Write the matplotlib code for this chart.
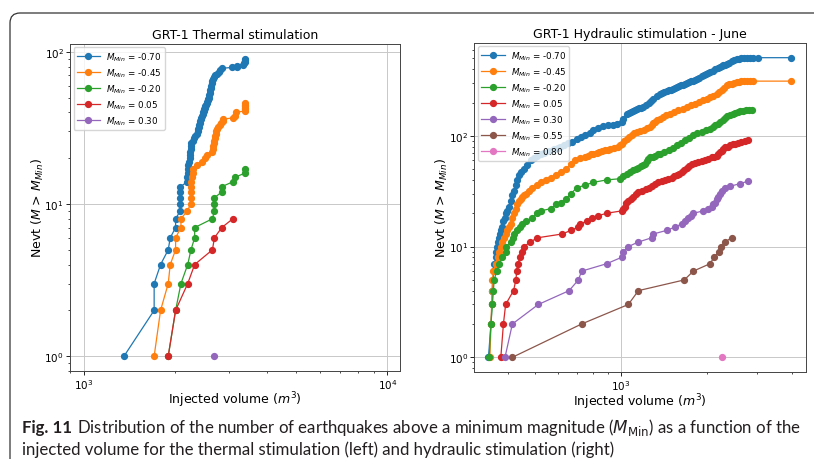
import matplotlib
matplotlib.use("Agg")
import matplotlib.pyplot as plt
from matplotlib.patches import FancyBboxPatch
from matplotlib.ticker import NullFormatter

# ---- GRT-1 thermal stimulation: injected volume (m3) vs cumulative count ----
th_labels = ["-0.70", "-0.45", "-0.20", "0.05", "0.30"]
th_v_070 = [1356, 1704, 1704, 1789, 1896, 1925, 2005, 2005, 2077, 2080, 2080, 2080, 2080,
            2190, 2190, 2195, 2195, 2200, 2225, 2230, 2235, 2240, 2245, 2250, 2260, 2290,
            2300, 2330, 2350, 2370, 2380, 2390, 2400, 2410, 2420, 2430, 2440, 2450, 2460,
            2470, 2480, 2490, 2500, 2510, 2530, 2540, 2550, 2560, 2570, 2580, 2590, 2600,
            2610, 2620, 2630, 2640, 2650, 2660, 2680, 2700, 2740, 2780, 2810, 2845, 3070,
            3190, 3200, 3350, 3380, 3400, 3400, 3400]
th_n_070 = list(range(1, 51)) + [52, 54, 56, 58, 60, 62, 64, 66, 68, 70, 72, 74, 76, 78,
                                 79, 80, 81, 82, 84, 86, 88, 90]
th_v_045 = [1704, 1789, 1896, 1925, 2005, 2005, 2088, 2088, 2191, 2248, 2248, 2248, 2250,
            2260, 2270, 2280, 2290, 2353, 2443, 2500, 2540, 2637, 2660, 2670, 2680, 2690,
            2700, 2710, 2720, 2730, 2740, 2760, 2800, 2830, 2870, 2880, 3110, 3150, 3180,
            3390, 3400, 3400, 3400, 3400, 3400]
th_n_045 = list(range(1, 39)) + [40, 41, 42, 43, 44, 45, 46]
th_v_020 = [1896, 2005, 2088, 2198, 2253, 2317, 2317, 2651, 2692, 2692, 2692, 2846, 2846,
            3095, 3150, 3400, 3400]
th_n_020 = list(range(1, 18))
th_v_005 = [1896, 2005, 2198, 2317, 2651, 2692, 2846, 3095]
th_n_005 = list(range(1, 9))
th_v_030 = [2692]
th_n_030 = [1]

# ---- GRT-1 hydraulic stimulation (June) ----
hy_labels = ["-0.70", "-0.45", "-0.20", "0.05", "0.30", "0.55", "0.80"]
hy_v_070 = [342, 349, 352, 353, 355, 357, 358, 363, 364, 366,
            369, 371, 374, 378, 382, 386, 390, 393, 398, 404,
            409, 415, 421, 427, 432, 438, 446, 456, 468, 482,
            494, 508, 522, 536, 558, 582, 600, 611, 631, 653,
            675, 699, 725, 750, 775, 799, 830, 867, 900, 935,
            966, 1005, 1020, 1047, 1063, 1080, 1100, 1120, 1140, 1160,
            1180, 1198, 1225, 1250, 1275, 1299, 1335, 1371, 1395, 1420,
            1445, 1470, 1495, 1520, 1545, 1568, 1595, 1620, 1650, 1680,
            1710, 1740, 1768, 1795, 1822, 1850, 1885, 1920, 1955, 1990,
            2020, 2054, 2097, 2140, 2184, 2228, 2259, 2290, 2320, 2350,
            2400, 2450, 2500, 2549, 2600, 2650, 2705, 2763, 2840, 2918,
            3036, 3954]
hy_n_070 = [1, 2, 3, 4, 5, 6, 7, 8, 9, 10,
            11, 12, 13, 14, 15, 17, 18, 20, 21, 23,
            26, 29, 32, 36, 40, 44, 47, 50, 55, 60,
            63, 66, 68, 70, 73, 76, 78, 79, 82, 86,
            88, 94, 98, 102, 107, 112, 117, 122, 124, 126,
            128, 133, 143, 158, 162, 165, 168, 172, 175, 177,
            180, 182, 191, 200, 208, 216, 228, 240, 245, 250,
            254, 258, 262, 266, 270, 275, 280, 285, 290, 295,
            300, 305, 310, 316, 322, 328, 336, 345, 352, 360,
            368, 376, 387, 398, 408, 417, 425, 432, 440, 447,
            458, 470, 480, 490, 496, 500, 504, 507, 507, 507,
            508, 508]
hy_v_045 = [346, 349, 351, 352, 353, 356, 363, 368, 373, 378,
            383, 388, 393, 398, 404, 409, 415, 421, 427, 432,
            438, 444, 450, 456, 462, 475, 488, 505, 522, 544,
            566, 590, 614, 640, 666, 690, 720, 745, 767, 783,
            799, 820, 840, 860, 879, 897, 915, 947, 979, 995,
            1010, 1028, 1047, 1068, 1090, 1112, 1135, 1168, 1200, 1232,
            1264, 1282, 1300, 1317, 1334, 1367, 1400, 1443, 1486, 1538,
            1590, 1645, 1701, 1760, 1820, 1883, 1947, 2000, 2050, 2110,
            2168, 2214, 2260, 2305, 2350, 2400, 2450, 2500, 2549, 2600,
            2650, 2705, 2763, 2840, 2918, 3954]
hy_n_045 = [1, 2, 3, 4, 5, 6, 7, 8, 9, 10,
            11, 12, 13, 14, 15, 16, 18, 20, 22, 24,
            26, 27, 28, 29, 30, 32, 34, 36, 38, 40,
            42, 44, 47, 50, 56, 60, 63, 65, 66, 68,
            69, 70, 72, 73, 74, 75, 76, 78, 79, 82,
            85, 90, 94, 98, 101, 105, 108, 111, 114, 117,
            120, 125, 130, 134, 138, 143, 148, 153, 158, 164,
            170, 176, 182, 188, 195, 202, 209, 215, 222, 231,
            240, 251, 262, 273, 285, 291, 296, 301, 306, 308,
            310, 311, 312, 312, 312, 312]
hy_v_020 = [344, 349, 353, 356, 358, 366, 373, 383, 393, 395,
            410, 416, 421, 430, 440, 450, 462, 488, 505, 522,
            566, 590, 614, 640, 666, 699, 750, 799, 890, 992,
            1020, 1050, 1078, 1105, 1128, 1150, 1175, 1198, 1214, 1230,
            1247, 1264, 1292, 1320, 1345, 1371, 1420, 1470, 1520, 1568,
            1622, 1680, 1737, 1795, 1857, 1920, 1987, 2054, 2097, 2140,
            2184, 2228, 2274, 2320, 2367, 2414, 2467, 2520, 2569, 2618,
            2684, 2750, 2813, 2877]
hy_n_020 = [1, 2, 3, 4, 5, 6, 7, 8, 9, 10,
            11, 12, 13, 14, 15, 16, 17, 18, 20, 21,
            22, 24, 25, 27, 30, 34, 36, 38, 40, 41,
            43, 45, 47, 49, 50, 51, 53, 54, 56, 59,
            62, 64, 65, 66, 68, 69, 72, 75, 78, 82,
            86, 91, 96, 101, 105, 108, 112, 116, 120, 124,
            128, 133, 138, 144, 150, 155, 158, 161, 164, 166,
            168, 170, 171, 172]
hy_v_005 = [378, 386, 393, 419, 427, 430, 433, 442, 450, 456,
            480, 508, 622, 666, 708, 718, 760, 789, 832, 890,
            1005, 1018, 1030, 1045, 1061, 1080, 1100, 1125, 1151, 1185,
            1220, 1250, 1281, 1316, 1352, 1390, 1430, 1468, 1506, 1537,
            1568, 1600, 1633, 1665, 1700, 1735, 1771, 1820, 1870, 1920,
            1972, 2025, 2080, 2124, 2168, 2197, 2230, 2260, 2290, 2319,
            2370, 2420, 2467, 2515, 2580, 2650, 2720, 2799]
hy_n_005 = [1, 2, 3, 4, 5, 6, 7, 8, 9, 10,
            11, 12, 13, 14, 15, 16, 17, 18, 19, 20,
            21, 22, 23, 25, 26, 27, 28, 30, 31, 32,
            33, 34, 35, 37, 38, 39, 40, 41, 42, 43,
            44, 45, 47, 49, 51, 53, 56, 57, 58, 59,
            60, 62, 64, 65, 66, 69, 71, 73, 76, 79,
            80, 82, 84, 85, 87, 88, 90, 91]
hy_v_030 = [391, 415, 512, 657, 708, 727, 890, 1005, 1018, 1061,
            1151, 1281, 1300, 1446, 1548, 1633, 1680, 1724, 1760, 1795,
            1947, 2028, 2080, 2111, 2140, 2168, 2200, 2228, 2270, 2319,
            2414, 2618, 2799]
hy_n_030 = list(range(1, 26)) + [27, 28, 30, 32, 34, 35, 37, 39]
hy_v_055 = [415, 727, 1061, 1151, 1669, 1795, 2054, 2124, 2209, 2247, 2319, 2447]
hy_n_055 = list(range(1, 13))
hy_v_080 = [2257]
hy_n_080 = [1]

caption_bold = "Fig. 11"
caption_1 = (r"Distribution of the number of earthquakes above a minimum magnitude "
             r"($M_{\mathrm{Min}}$) as a function of the")
caption_2 = "injected volume for the thermal stimulation (left) and hydraulic stimulation (right)"

fig = plt.figure(figsize=(8.14, 4.6), dpi=100)

ax1 = fig.add_axes([0.0860, 0.1913, 0.4054, 0.7109])
ax2 = fig.add_axes([0.5827, 0.1885, 0.4075, 0.7165])


def draw_panel(ax, series, labels, title):
    for (v, n), lab in zip(series, labels):
        ax.plot(v, n, marker="o", ms=4.2, lw=0.9, label=rf"$M_{{Min}}$ = {lab}")
    ax.set_xscale("log")
    ax.set_yscale("log")
    ax.set_title(title, fontsize=9, pad=4)
    ax.set_xlabel(r"Injected volume ($m^3$)", fontsize=9, labelpad=-1)
    ax.set_ylabel(r"Nevt ($M$ > $M_{Min}$)", fontsize=9, labelpad=-1)
    ax.grid(True, color="#c8c8c8", lw=0.7)
    ax.tick_params(which="major", labelsize=7.5, length=3, width=0.6, pad=1.5)
    ax.tick_params(which="minor", length=1.6, width=0.5)
    ax.xaxis.set_minor_formatter(NullFormatter())
    ax.yaxis.set_minor_formatter(NullFormatter())
    for s in ax.spines.values():
        s.set_linewidth(0.7)
        s.set_color("#444444")
    ax.legend(loc="upper left", fontsize=6.3, handlelength=2.7, markerscale=1.0,
              borderaxespad=0.4, labelspacing=0.4, borderpad=0.35, handletextpad=0.7)


draw_panel(ax1,
           [(th_v_070, th_n_070), (th_v_045, th_n_045), (th_v_020, th_n_020),
            (th_v_005, th_n_005), (th_v_030, th_n_030)],
           th_labels, "GRT-1 Thermal stimulation")
ax1.set_xlim(900, 11000)

draw_panel(ax2,
           [(hy_v_070, hy_n_070), (hy_v_045, hy_n_045), (hy_v_020, hy_n_020),
            (hy_v_005, hy_n_005), (hy_v_030, hy_n_030), (hy_v_055, hy_n_055),
            (hy_v_080, hy_n_080)],
           hy_labels, "GRT-1 Hydraulic stimulation - June")
ax2.set_xlim(305, 4470)

# rounded frame around the figure (cut by the image edges)
frame = FancyBboxPatch((0.10, -1.0), 9.0, 5.46, boxstyle="round,pad=0,rounding_size=0.1",
                       transform=fig.dpi_scale_trans, fill=False, ec="#333333", lw=0.9,
                       clip_on=False)
fig.add_artist(frame)

# caption, fitted to the printed line width
cap_font = ["Liberation Sans Narrow", "Lato", "DejaVu Sans"]
x0, x_end = 22 / 814, 803 / 814
y1, y2 = 1 - 428 / 460, 1 - 450 / 460
size = 11.0
tb = fig.text(x0, y1, caption_bold, fontsize=size, weight="bold", family=cap_font,
              va="center", color="#231f20")
t1 = fig.text(x0, y1, caption_1, fontsize=size, family=cap_font, va="center", color="#231f20")
t2 = fig.text(x0, y2, caption_2, fontsize=size, family=cap_font, va="center", color="#231f20")
for _ in range(3):
    fig.canvas.draw()
    r = fig.canvas.get_renderer()
    wb = tb.get_window_extent(r).width
    w1 = t1.get_window_extent(r).width
    total = wb + 0.45 * size + w1
    target = (x_end - x0) * fig.bbox.width
    size = size * target / total
    for t in (tb, t1, t2):
        t.set_fontsize(size)
    fig.canvas.draw()
    wb = tb.get_window_extent(r).width
    t1.set_x(x0 + (wb + 0.45 * size) / fig.bbox.width)

fig.savefig("out.png", dpi=100)
